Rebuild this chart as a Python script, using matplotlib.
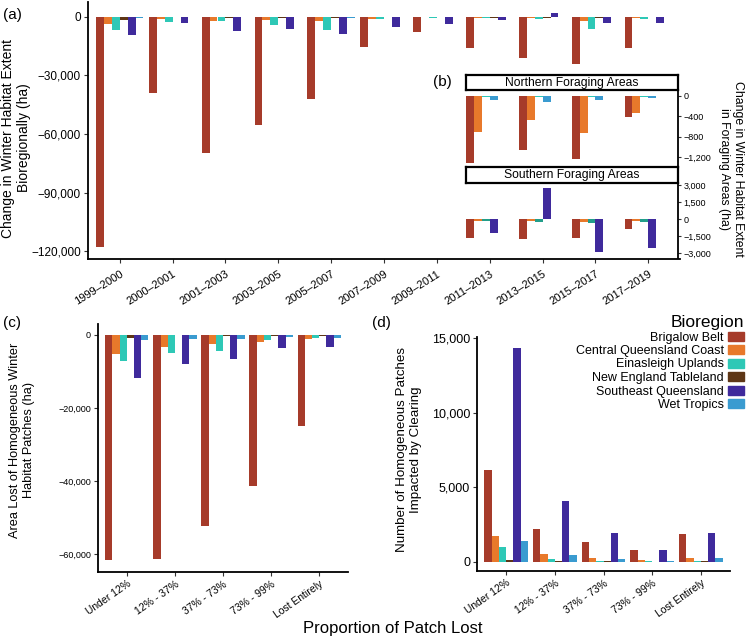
import numpy as np
import matplotlib.pyplot as plt
from matplotlib.ticker import FuncFormatter
from matplotlib.patches import Patch

plt.rcParams['font.family'] = ['Liberation Sans', 'DejaVu Sans']

# 数据
regions = ['Brigalow Belt', 'Central Queensland Coast', 'Einasleigh Uplands',
           'New England Tableland', 'Southeast Queensland', 'Wet Tropics']
colours = ['#a63b2a', '#e8792b', '#2ec8b6', '#5e3616', '#3f2a9c', '#3a9bd0']

periods = ['1999–2000', '2000–2001', '2001–2003', '2003–2005', '2005–2007', '2007–2009',
           '2009–2011', '2011–2013', '2013–2015', '2015–2017', '2017–2019']
a_brigalow = [-118000, -39000, -69500, -55500, -42000, -15500, -7700, -16000, -21000, -24000, -16000]
a_cqc = [-3500, -1000, -2000, -1800, -2000, -1000, -300, -500, -800, -2000, -500]
a_einasleigh = [-6500, -2800, -2000, -4000, -6500, -1000, -500, -600, -1200, -6000, -1000]
a_newengland = [-1500, -300, -800, -500, -400, -300, -100, -500, -600, -500, -300]
a_seq = [-9500, -3300, -7200, -6000, -9000, -5000, -3600, -1500, 2200, -3000, -3000]
a_wettropics = [-500, -200, -300, -300, -500, -200, -100, -200, -200, -300, -200]

b_periods = ['2011–2013', '2013–2015', '2015–2017', '2017–2019']
north_brigalow = [-1320, -1060, -1240, -410]
north_cqc = [-710, -470, -730, -340]
north_einasleigh = [-20, -20, -20, -15]
north_wettropics = [-80, -120, -70, -40]
south_brigalow = [-1680, -1760, -1680, -880]
south_cqc = [-150, -150, -300, -150]
south_other = [-200, -260, -350, -250]
south_seq = [-1240, 2740, -2900, -2560]

patch_classes = ['Under 12%', '12% - 37%', '37% - 73%', '73% - 99%', 'Lost Entirely']
c_brigalow = [-61700, -61400, -52400, -41400, -24800]
c_cqc = [-5200, -3200, -2600, -1900, -1100]
c_einasleigh = [-7000, -4900, -4500, -1300, -700]
c_newengland = [-700, -100, -200, -200, -200]
c_seq = [-11700, -7900, -6700, -3500, -3400]
c_wettropics = [-1500, -1000, -1000, -600, -800]

d_brigalow = [6160, 2200, 1320, 800, 1850]
d_cqc = [1740, 530, 250, 100, 250]
d_einasleigh = [960, 180, 60, 50, 70]
d_newengland = [150, 30, 20, 10, 20]
d_seq = [14350, 4080, 1900, 800, 1960]
d_wettropics = [1400, 450, 210, 60, 270]

W, H = 746, 638
fig = plt.figure(figsize=(W / 100, H / 100), dpi=100)


def px_axes(x0, y0, x1, y1):
    return fig.add_axes([x0 / W, 1 - y1 / H, (x1 - x0) / W, (y1 - y0) / H])


def fmt(v, pos):
    s = f"{abs(v):,.0f}"
    return ('−' + s) if v < 0 else s


def classic(ax, ysize, xsize, rot, xpad=2):
    for s in ['top', 'right']:
        ax.spines[s].set_visible(False)
    for s in ['left', 'bottom']:
        ax.spines[s].set_linewidth(1.3)
    ax.tick_params(length=3, width=0.8, color='#333333')
    ax.tick_params(axis='y', labelsize=ysize, pad=2)
    ax.tick_params(axis='x', labelsize=xsize, pad=xpad)
    ax.yaxis.set_major_formatter(FuncFormatter(fmt))
    for lab in ax.get_xticklabels():
        lab.set_rotation(rot)
        lab.set_ha('right')
        lab.set_va('top')
        lab.set_rotation_mode('anchor')


def grouped(ax, series, n):
    x = np.arange(n)
    w = 0.15
    for k, (vals, col) in enumerate(zip(series, colours)):
        ax.bar(x - 0.45 + w * (k + 0.5), vals, w, color=col, linewidth=0)


# (a)
ax_a = px_axes(88, 2, 680, 259)
grouped(ax_a, [a_brigalow, a_cqc, a_einasleigh, a_newengland, a_seq, a_wettropics], len(periods))
ax_a.set_xlim(-0.6, 10.6)
ax_a.set_ylim(-124000, 7600)
ax_a.set_yticks([0, -30000, -60000, -90000, -120000])
ax_a.set_xticks(range(len(periods)))
ax_a.set_xticklabels(periods)
classic(ax_a, 8.5, 8, 32, xpad=4)
fig.text(16 / W, 1 - 138 / H, 'Change in Winter Habitat Extent\nBioregionally (ha)',
         rotation=90, ha='center', va='center', fontsize=10, linespacing=1.15)
fig.text(3 / W, 1 - 15 / H, '(a)', fontsize=11, va='center')

# (b) 插图
def inset(y0, y1, series, cols, ylim, ticks):
    ax = px_axes(466, y0, 678, y1)
    x = np.arange(len(b_periods))
    for k, (vals, col) in enumerate(zip(series, cols)):
        ax.bar(x - 0.45 + 0.15 * (k + 0.5), vals, 0.15, color=col, linewidth=0)
    ax.set_xlim(-0.449, 3.562)
    ax.set_ylim(*ylim)
    ax.set_yticks(ticks)
    ax.set_xticks([])
    for s in ['top', 'left', 'bottom']:
        ax.spines[s].set_visible(False)
    ax.spines['right'].set_linewidth(1.3)
    ax.yaxis.tick_right()
    ax.tick_params(axis='y', length=2.5, width=0.8, labelsize=6.5, pad=1.5, color='#333333')
    ax.yaxis.set_major_formatter(FuncFormatter(fmt))
    ax.patch.set_alpha(0)
    return ax


def strip(y0, y1, text):
    ax = px_axes(466, y0, 678, y1)
    ax.set_xticks([])
    ax.set_yticks([])
    for s in ax.spines.values():
        s.set_linewidth(1.6)
    ax.text(0.5, 0.47, text, ha='center', va='center', fontsize=8.7, transform=ax.transAxes)


strip(75, 90, 'Northern Foraging Areas')
inset(91, 166, [north_brigalow, north_cqc, north_einasleigh, north_wettropics],
      [colours[0], colours[1], colours[2], colours[5]], (-1377, 98), [0, -400, -800, -1200])
strip(167, 183, 'Southern Foraging Areas')
inset(183, 258, [south_brigalow, south_cqc, south_other, south_seq],
      [colours[0], colours[1], '#229e8a', colours[4]], (-3440, 3180), [3000, 1500, 0, -1500, -3000])
fig.text(731 / W, 1 - 169 / H, 'Change in Winter Habitat Extent\nin Foraging Areas (ha)',
         rotation=-90, ha='center', va='center', fontsize=8.8, linespacing=1.15)
fig.text(433 / W, 1 - 82 / H, '(b)', fontsize=11, va='center')

# (c)
ax_c = px_axes(98, 324, 348, 572)
grouped(ax_c, [c_brigalow, c_cqc, c_einasleigh, c_newengland, c_seq, c_wettropics], len(patch_classes))
ax_c.set_xlim(-0.6, 4.6)
ax_c.set_ylim(-64900, 3000)
ax_c.set_yticks([0, -20000, -40000, -60000])
ax_c.set_xticks(range(len(patch_classes)))
ax_c.set_xticklabels(patch_classes)
classic(ax_c, 6.5, 7.5, 35)
fig.text(22 / W, 1 - 440 / H, 'Area Lost of Homogeneous Winter\nHabitat Patches (ha)',
         rotation=90, ha='center', va='center', fontsize=9.2, linespacing=1.15)
fig.text(3 / W, 1 - 323 / H, '(c)', fontsize=11, va='center')

# (d)
ax_d = px_axes(477, 337, 730, 571)
grouped(ax_d, [d_brigalow, d_cqc, d_einasleigh, d_newengland, d_seq, d_wettropics], len(patch_classes))
ax_d.set_xlim(-0.6, 4.6)
ax_d.set_ylim(-620, 15100)
ax_d.set_yticks([0, 5000, 10000, 15000])
ax_d.set_xticks(range(len(patch_classes)))
ax_d.set_xticklabels(patch_classes)
classic(ax_d, 9, 7.5, 35)
fig.text(409 / W, 1 - 450 / H, 'Number of Homogeneous Patches\nImpacted by Clearing',
         rotation=90, ha='center', va='center', fontsize=9.6, linespacing=1.15)
fig.text(372 / W, 1 - 323 / H, '(d)', fontsize=11, va='center')

handles = [Patch(color=c, label=r) for r, c in zip(regions, colours)]
leg = fig.legend(handles=handles, title='Bioregion', loc='upper right',
                 bbox_to_anchor=(744 / W, 1 - 315 / H), frameon=False, fontsize=9,
                 title_fontsize=12.5, markerfirst=False, handlelength=1.3, handleheight=0.75,
                 labelspacing=0.12, handletextpad=0.3, borderaxespad=0, borderpad=0)
leg._legend_box.align = 'right'

fig.text(393 / W, 1 - 628 / H, 'Proportion of Patch Lost', ha='center', va='center', fontsize=12)

fig.savefig('out.png', dpi=100)
